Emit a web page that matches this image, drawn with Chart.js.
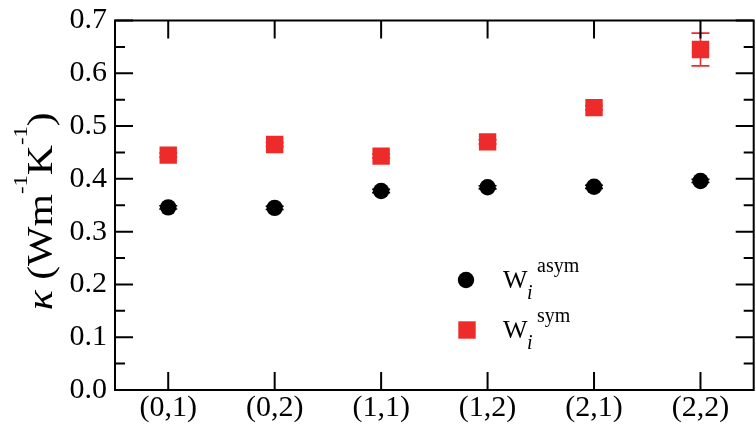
<!DOCTYPE html>
<html>
<head>
<meta charset="utf-8">
<script src="https://cdn.jsdelivr.net/npm/chart.js@4/dist/chart.umd.min.js"></script>
<style>
  html, body { margin: 0; padding: 0; background: #fff; overflow: hidden; }
  #wrap { width: 766px; height: 429px; }
</style>
</head>
<body>
<div id="wrap"><canvas id="chart" width="766" height="429"></canvas></div>
<script>
// ------------------------------------------------------------
// thermal conductivity per (n,m) configuration
// ------------------------------------------------------------
const categories = ['(0,1)', '(0,2)', '(1,1)', '(1,2)', '(2,1)', '(2,2)'];
const kappaAsym  = [0.346, 0.345, 0.377, 0.384, 0.385, 0.396];
const errAsym    = [0.003, 0.003, 0.003, 0.003, 0.003, 0.003];
const kappaSym   = [0.445, 0.465, 0.443, 0.470, 0.535, 0.645];
const errSym     = [0.004, 0.004, 0.004, 0.004, 0.004, 0.031];
const yMin = 0.0, yMax = 0.7, yStep = 0.1;

const RED   = '#ee2b2b';
const SERIF = "'Liberation Serif', 'Times New Roman', serif";

// draw a run of text pieces (normal / italic / raised) from x
function drawPieces(ctx, parts, x, y) {
  parts.forEach(p => {
    ctx.font = `${p.italic ? 'italic ' : ''}${p.size}px ${SERIF}`;
    ctx.fillText(p.t, x, y - (p.rise || 0));
    x += ctx.measureText(p.t).width;
  });
}

// error bars, under the markers
const errorBars = {
  id: 'errorBars',
  beforeDatasetsDraw(chart) {
    const { ctx, scales: { x, y } } = chart;
    const sets = [[kappaAsym, errAsym, '#000'], [kappaSym, errSym, RED]];
    ctx.save();
    ctx.lineWidth = 1.6;
    sets.forEach(([vals, errs, col]) => {
      ctx.strokeStyle = col;
      ctx.beginPath();
      vals.forEach((v, i) => {
        const px = x.getPixelForValue(i);
        const hi = y.getPixelForValue(v + errs[i]);
        const lo = y.getPixelForValue(v - errs[i]);
        ctx.moveTo(px, hi); ctx.lineTo(px, lo);
        ctx.moveTo(px - 9, hi); ctx.lineTo(px + 9, hi);
        ctx.moveTo(px - 9, lo); ctx.lineTo(px + 9, lo);
      });
      ctx.stroke();
    });
    ctx.restore();
  }
};

// box frame with inward ticks on all four sides
const frame = {
  id: 'frame',
  afterDatasetsDraw(chart) {
    const { ctx, chartArea: a, scales: { x, y } } = chart;
    ctx.save();
    ctx.strokeStyle = '#000';
    ctx.lineWidth = 2;
    ctx.strokeRect(a.left, a.top, a.right - a.left, a.bottom - a.top);
    ctx.beginPath();
    y.ticks.forEach((t, i) => {
      const py = y.getPixelForValue(t.value);
      ctx.moveTo(a.left, py);  ctx.lineTo(a.left + 18, py);
      ctx.moveTo(a.right, py); ctx.lineTo(a.right - 18, py);
      if (i < y.ticks.length - 1) {
        const pm = y.getPixelForValue(t.value + yStep / 2);
        ctx.moveTo(a.left, pm);  ctx.lineTo(a.left + 10, pm);
        ctx.moveTo(a.right, pm); ctx.lineTo(a.right - 10, pm);
      }
    });
    x.ticks.forEach((t, i) => {
      const px = x.getPixelForTick(i);
      ctx.moveTo(px, a.bottom); ctx.lineTo(px, a.bottom - 18);
      ctx.moveTo(px, a.top);    ctx.lineTo(px, a.top + 18);
    });
    ctx.stroke();
    ctx.restore();
  }
};

// rotated y title with superscripts
const yTitle = {
  id: 'yTitle',
  afterDraw(chart) {
    const { ctx, chartArea: a } = chart;
    const parts = [
      { t: 'κ', italic: true, size: 35 },
      { t: ' (Wm', size: 35 },
      { t: '-1', size: 19, rise: 25 },
      { t: 'K', size: 35 },
      { t: '-1', size: 19, rise: 25 },
      { t: ')', size: 35 }
    ];
    let w = 0;
    parts.forEach(p => {
      ctx.font = `${p.italic ? 'italic ' : ''}${p.size}px ${SERIF}`;
      w += ctx.measureText(p.t).width;
    });
    const stretch = 198 / w;
    ctx.save();
    ctx.fillStyle = '#000';
    ctx.textBaseline = 'alphabetic';
    ctx.translate(52, (a.top + a.bottom) / 2 + 6);
    ctx.rotate(-Math.PI / 2);
    ctx.scale(stretch, 1);
    drawPieces(ctx, parts, -w / 2, 0);
    ctx.restore();
  }
};

// legend: marker plus W_i^{asym} / W_i^{sym}
const legendBox = {
  id: 'legendBox',
  afterDraw(chart) {
    const { ctx } = chart;
    ctx.save();
    ctx.fillStyle = '#000';
    ctx.beginPath();
    ctx.arc(466, 280, 8.2, 0, Math.PI * 2);
    ctx.fill();
    ctx.fillStyle = RED;
    ctx.fillRect(467 - 8.7, 330 - 8.7, 17.4, 17.4);

    ctx.fillStyle = '#000';
    ctx.textBaseline = 'alphabetic';
    const entry = (sup, base) => {
      ctx.font = `26px ${SERIF}`;
      ctx.fillText('W', 503, base);
      ctx.font = `italic 20px ${SERIF}`;
      ctx.fillText('i', 527, base + 11);
      ctx.font = `20px ${SERIF}`;
      ctx.fillText(sup, 537, base - 16);
    };
    entry('asym', 288);
    entry('sym', 338);
    ctx.restore();
  }
};

new Chart(document.getElementById('chart'), {
  type: 'line',
  data: {
    labels: categories,
    datasets: [
      {
        label: 'asym',
        data: kappaAsym,
        showLine: false,
        pointStyle: 'circle',
        pointRadius: 8.2,
        pointHoverRadius: 8.2,
        pointBackgroundColor: '#000',
        pointBorderWidth: 0,
        borderColor: '#000'
      },
      {
        label: 'sym',
        data: kappaSym,
        showLine: false,
        pointStyle: 'rect',
        pointRadius: 12.3,
        pointHoverRadius: 12.3,
        pointBackgroundColor: RED,
        pointBorderWidth: 0,
        borderColor: RED
      }
    ]
  },
  options: {
    responsive: false,
    animation: false,
    events: [],
    layout: { padding: { left: 0, right: 4, top: 20.5, bottom: 0 } },
    plugins: { legend: { display: false }, tooltip: { enabled: false } },
    scales: {
      x: {
        type: 'category',
        offset: true,
        grid: { display: false, drawTicks: false, tickLength: 0 },
        border: { display: false },
        ticks: { color: '#000', font: { family: SERIF, size: 30 }, padding: 0, maxRotation: 0 },
        afterFit: s => { s.height = 39; s.paddingLeft = 0; s.paddingRight = 0; }
      },
      y: {
        min: yMin,
        max: yMax,
        grid: { display: false, drawTicks: false, tickLength: 0 },
        border: { display: false },
        ticks: {
          stepSize: yStep,
          color: '#000',
          font: { family: SERIF, size: 30 },
          padding: 8,
          callback: v => v.toFixed(1)
        },
        afterFit: s => { s.width = 115; s.paddingTop = 0; s.paddingBottom = 0; }
      }
    }
  },
  plugins: [errorBars, frame, yTitle, legendBox]
});
</script>
</body>
</html>
